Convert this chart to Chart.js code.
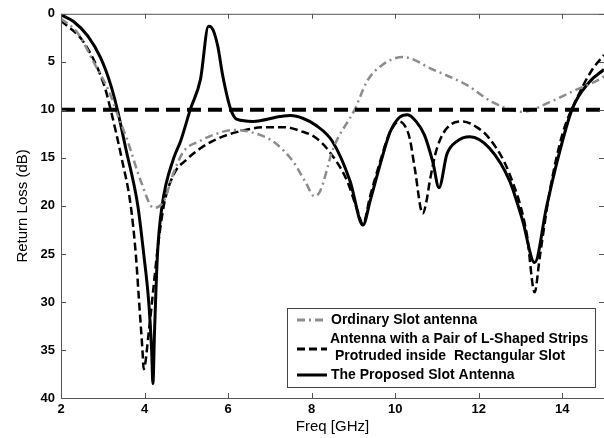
<!DOCTYPE html>
<html>
<head>
<meta charset="utf-8">
<script src="https://cdn.jsdelivr.net/npm/chart.js@4.4.1/dist/chart.umd.min.js"></script>
<style>
  html, body { margin: 0; padding: 0; background: #fff; }
  #wrap { position: relative; width: 604px; height: 438px; }
</style>
</head>
<body>
<div id="wrap"><canvas id="rl-chart" width="604" height="438"></canvas></div>
<script>
// ===========================
// Return Loss 比較グラフ
// ===========================

// 軸目盛
var xTicks = [2, 4, 6, 8, 10, 12, 14];
var yTicks = [0, 5, 10, 15, 20, 25, 30, 35, 40];

// Ordinary Slot antenna
var freqOrdinary = [2.0, 2.4, 2.79, 3.19, 3.31, 3.6, 3.91, 4.22, 4.46, 4.7, 4.94, 5.3, 5.65, 6.13, 6.53, 7.08, 7.56, 7.85, 8.07, 8.2, 8.52, 9.04, 9.33, 9.7, 10.19, 10.9, 11.71, 12.33, 13.05, 13.7, 14.24, 14.9, 15.0];
var lossOrdinary = [0.5, 2.0, 5.1, 8.5, 10.0, 13.3, 17.4, 20.2, 19.5, 16.5, 14.3, 13.3, 12.6, 12.1, 12.3, 13.3, 15.4, 17.5, 19.0, 18.5, 14.0, 9.9, 7.0, 5.3, 4.5, 5.8, 7.4, 9.2, 10.2, 9.2, 8.1, 6.8, 6.5];

// Antenna with a Pair of L-Shaped Strips
var freqLStrip = [2.0, 2.55, 3.03, 3.19, 3.45, 3.67, 3.79, 3.87, 3.95, 3.98, 4.1, 4.2, 4.31, 4.46, 4.7, 5.0, 5.34, 5.7, 6.13, 6.94, 7.35, 7.73, 8.1, 8.4, 8.85, 9.1, 9.23, 9.4, 9.64, 9.85, 10.1, 10.25, 10.35, 10.47, 10.66, 10.75, 10.83, 11.0, 11.31, 11.62, 11.95, 12.26, 12.74, 13.15, 13.34, 13.46, 13.7, 14.0, 14.34, 14.72, 15.0];
var lossLStrip = [0.7, 3.0, 7.4, 10.0, 15.0, 20.0, 25.0, 30.0, 35.0, 37.0, 33.2, 29.1, 24.6, 20.0, 16.7, 15.2, 14.0, 13.1, 12.4, 11.8, 11.8, 12.2, 12.9, 14.2, 17.4, 20.5, 21.9, 19.0, 15.4, 12.6, 11.2, 11.8, 13.0, 16.1, 20.8, 19.5, 17.4, 14.0, 11.6, 11.2, 11.8, 13.0, 16.7, 22.9, 29.0, 25.4, 18.5, 12.6, 8.9, 5.8, 4.3];

// The Proposed Slot Antenna
var freqProposed = [2.0, 2.3, 2.64, 2.95, 3.19, 3.35, 3.55, 3.84, 3.98, 4.1, 4.17, 4.2, 4.24, 4.31, 4.42, 4.7, 4.86, 5.1, 5.34, 5.53, 5.6, 5.75, 5.87, 6.06, 6.22, 6.6, 7.25, 7.5, 7.8, 8.1, 8.5, 8.92, 9.23, 9.4, 9.64, 9.88, 10.1, 10.3, 10.5, 10.7, 10.9, 11.05, 11.24, 11.47, 11.79, 12.26, 12.74, 13.05, 13.34, 13.62, 13.86, 14.24, 14.65, 15.0];
var lossProposed = [0.1, 0.8, 2.3, 4.6, 7.4, 10.0, 14.0, 20.0, 25.0, 30.0, 35.0, 38.5, 33.0, 25.0, 20.0, 15.0, 13.3, 9.9, 6.8, 1.3, 1.4, 3.3, 6.4, 9.9, 11.0, 11.2, 10.7, 10.6, 10.9, 11.6, 13.3, 17.4, 22.0, 19.5, 15.7, 12.3, 10.8, 10.5, 11.2, 12.6, 15.4, 18.1, 14.6, 13.3, 12.8, 14.0, 17.4, 21.5, 25.9, 20.2, 15.7, 9.9, 7.1, 5.8];

// -10dB 基準線
var refFreq = [2, 15];
var refLoss = [10, 10];

function toPoints(xs, ys) {
  return xs.map(function(x, i) { return { x: x, y: ys[i] }; });
}

var AXIS_COLOR = '#555555';
var FONT_FAMILY = '"Liberation Sans", Arial, sans-serif';
var TICK_FONT = { family: FONT_FAMILY, size: 13, weight: 'bold' };
var TITLE_FONT = { family: FONT_FAMILY, size: 15 };

// 枠と内向きの目盛、凡例を描く
var framePlugin = {
  id: 'frame',
  afterDraw: function(chart) {
    var ctx = chart.ctx;
    var a = chart.chartArea;
    var xs = chart.scales.x, ys = chart.scales.y;
    ctx.save();
    ctx.strokeStyle = AXIS_COLOR;
    ctx.lineWidth = 1;
    ctx.strokeRect(a.left + 0.5, a.top + 0.5, a.right - a.left, a.bottom - a.top);
    ctx.beginPath();
    xTicks.forEach(function(t) {
      var px = Math.round(xs.getPixelForValue(t)) + 0.5;
      ctx.moveTo(px, a.bottom); ctx.lineTo(px, a.bottom - 5);
      ctx.moveTo(px, a.top); ctx.lineTo(px, a.top + 5);
    });
    yTicks.forEach(function(t) {
      var py = Math.round(ys.getPixelForValue(t)) + 0.5;
      ctx.moveTo(a.left, py); ctx.lineTo(a.left + 5, py);
      ctx.moveTo(a.right, py); ctx.lineTo(a.right - 5, py);
    });
    ctx.stroke();

    // 凡例
    var bx = 287, by = 308, bw = 308, bh = 79;
    ctx.fillStyle = '#fff';
    ctx.fillRect(bx, by, bw, bh);
    ctx.strokeStyle = '#444';
    ctx.strokeRect(bx + 0.5, by + 0.5, bw, bh);

    var items = [
      { dash: [8, 4, 2, 4], color: '#8c8c8c', width: 3, lineY: 320, texts: [['Ordinary Slot antenna', 331, 320]] },
      { dash: [8, 4], color: '#000', width: 3, lineY: 349, texts: [['Antenna with a Pair of L-Shaped Strips', 330, 339], [' Protruded inside  Rectangular Slot', 331, 356]] },
      { dash: [], color: '#000', width: 3, lineY: 375, texts: [['The Proposed Slot Antenna', 331, 375]] }
    ];
    ctx.font = 'bold 14px ' + FONT_FAMILY;
    ctx.textBaseline = 'middle';
    ctx.textAlign = 'left';
    items.forEach(function(it) {
      ctx.beginPath();
      ctx.setLineDash(it.dash);
      ctx.strokeStyle = it.color;
      ctx.lineWidth = it.width;
      ctx.moveTo(297, it.lineY); ctx.lineTo(327, it.lineY);
      ctx.stroke();
      ctx.setLineDash([]);
      ctx.fillStyle = '#000';
      it.texts.forEach(function(t) { ctx.fillText(t[0], t[1], t[2]); });
    });
    ctx.restore();
  }
};

var lineBase = {
  pointRadius: 0,
  fill: false,
  cubicInterpolationMode: 'monotone',
  borderCapStyle: 'butt'
};

var ctx = document.getElementById('rl-chart').getContext('2d');
new Chart(ctx, {
  type: 'line',
  data: {
    datasets: [
      Object.assign({}, lineBase, {
        label: '-10 dB',
        data: toPoints(refFreq, refLoss),
        borderColor: '#000',
        borderWidth: 4,
        borderDash: [14, 7]
      }),
      Object.assign({}, lineBase, {
        label: 'Ordinary Slot antenna',
        data: toPoints(freqOrdinary, lossOrdinary),
        borderColor: '#8c8c8c',
        borderWidth: 2.5,
        borderDash: [8, 4, 2, 4]
      }),
      Object.assign({}, lineBase, {
        label: 'Antenna with a Pair of L-Shaped Strips Protruded inside Rectangular Slot',
        data: toPoints(freqLStrip, lossLStrip),
        borderColor: '#000',
        borderWidth: 2.5,
        borderDash: [8, 4]
      }),
      Object.assign({}, lineBase, {
        label: 'The Proposed Slot Antenna',
        data: toPoints(freqProposed, lossProposed),
        borderColor: '#000',
        borderWidth: 3
      })
    ]
  },
  options: {
    responsive: false,
    animation: false,
    layout: { padding: { top: 11, right: 0, left: 0, bottom: 0 } },
    plugins: { legend: { display: false }, tooltip: { enabled: false } },
    scales: {
      x: {
        type: 'linear',
        min: 2,
        max: 15,
        afterBuildTicks: function(s) { s.ticks = xTicks.map(function(v) { return { value: v }; }); },
        afterFit: function(s) { s.height = 40; },
        grid: { display: false, drawTicks: false },
        border: { display: false },
        ticks: { color: '#000', font: TICK_FONT, padding: 4, maxRotation: 0 },
        title: { display: true, text: 'Freq [GHz]', color: '#000', font: TITLE_FONT, padding: { top: 0, bottom: 2 } }
      },
      y: {
        type: 'linear',
        reverse: true,
        min: 0,
        max: 40,
        afterBuildTicks: function(s) { s.ticks = yTicks.map(function(v) { return { value: v }; }); },
        afterFit: function(s) { s.width = 61; },
        grid: { display: false, drawTicks: false },
        border: { display: false },
        ticks: { color: '#000', font: TICK_FONT, padding: 6 },
        title: { display: true, text: 'Return Loss (dB)', color: '#000', font: TITLE_FONT, padding: { top: 14, bottom: 0 } }
      }
    }
  },
  plugins: [framePlugin]
});
</script>
</body>
</html>
